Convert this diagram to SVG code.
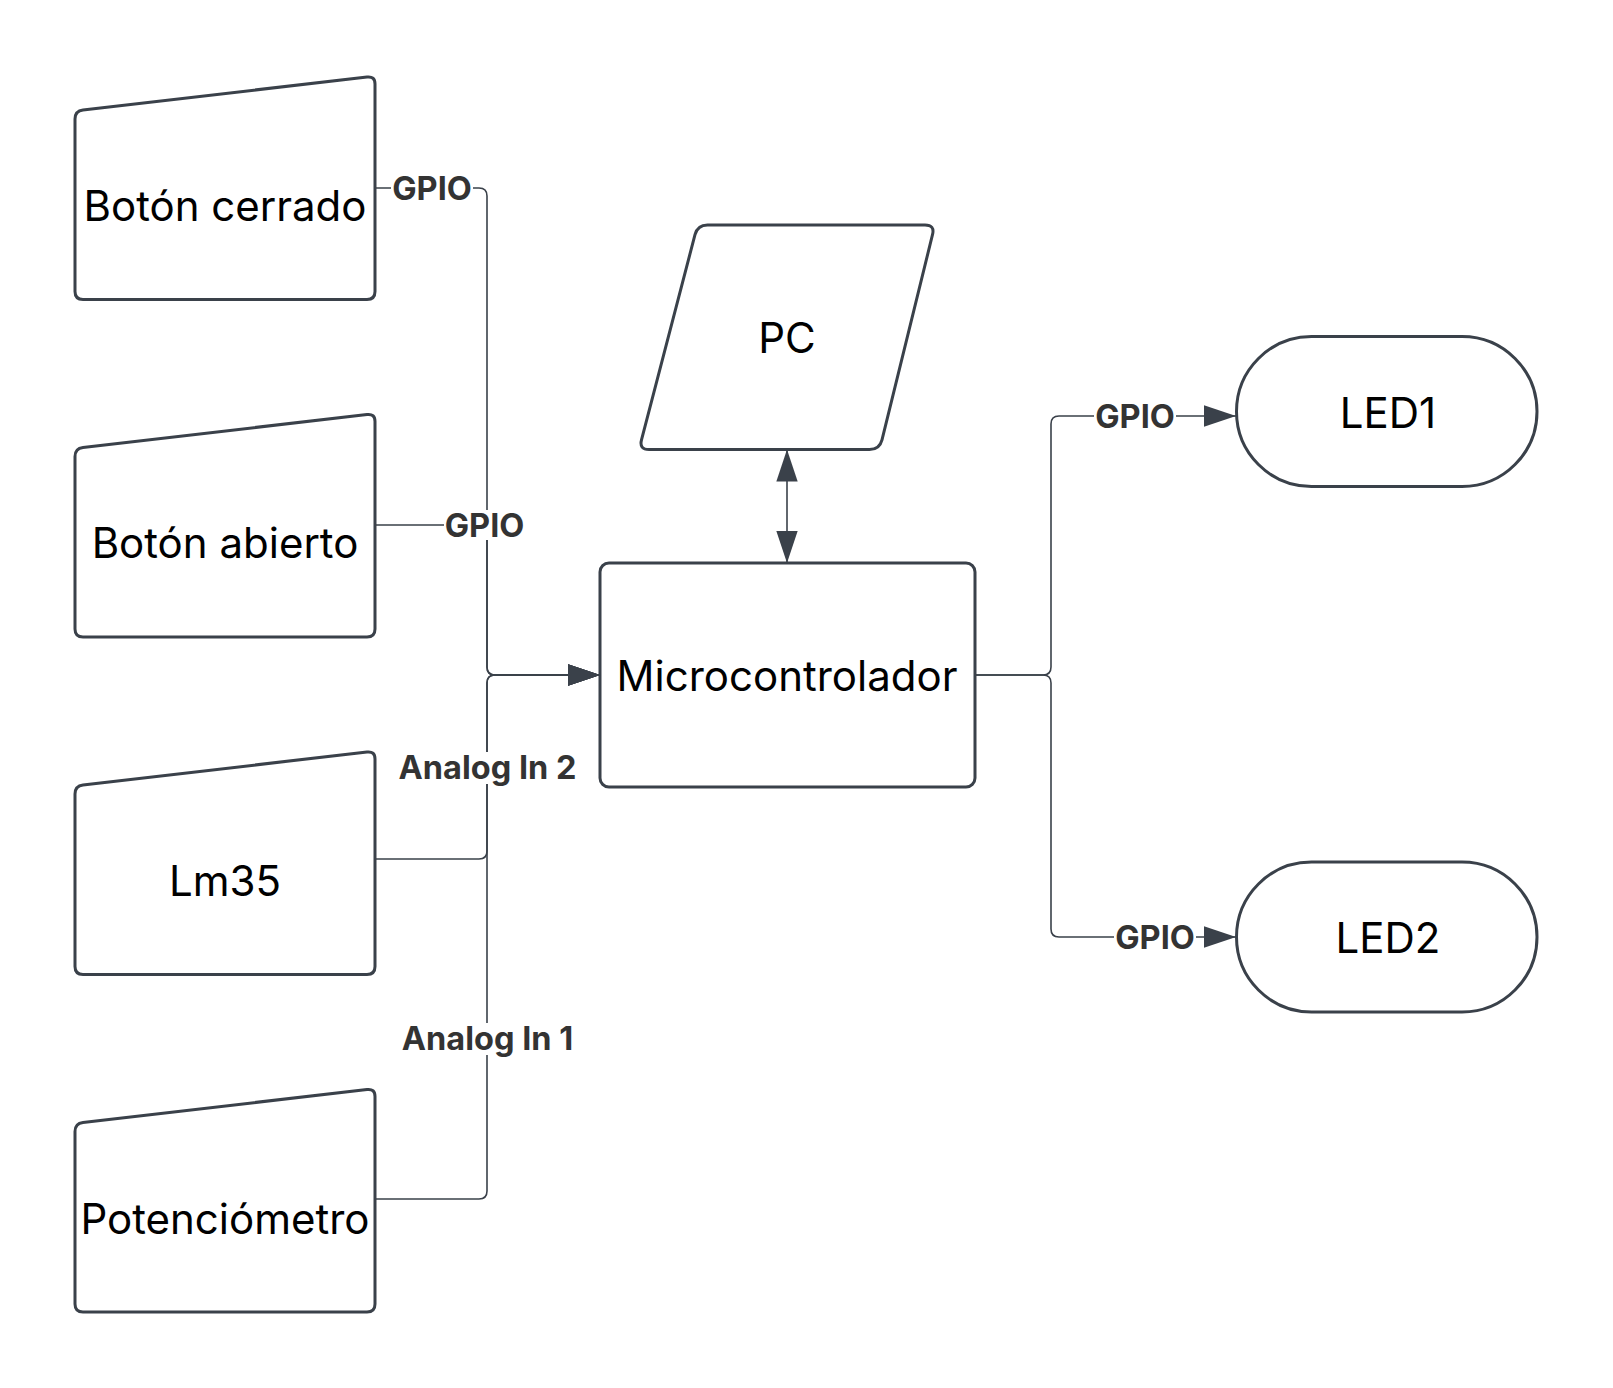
<svg xmlns="http://www.w3.org/2000/svg" width="1613" height="1388" viewBox="0 0 1613 1388">
<style>
.node{fill:#ffffff;stroke:#3a414a;stroke-width:3;stroke-linejoin:round}
.ntext{font-family:Inter,"Liberation Sans",sans-serif;font-size:42px;fill:#000;text-anchor:middle}
.conn{fill:none;stroke:#3a414a;stroke-width:1.6}
.lbl{font-family:Inter,"Liberation Sans",sans-serif;font-size:32.5px;font-weight:700;fill:#333;text-anchor:middle}
.lblbg{fill:#ffffff}
</style>
<defs>
<marker id="arr" markerUnits="userSpaceOnUse" markerWidth="32" markerHeight="22" viewBox="0 0 30 20" refX="30" refY="10" orient="auto-start-reverse">
<path d="M0,0 L30,10 L0,20 Z" fill="#3a414a"/>
</marker>
</defs>
<rect width="1613" height="1388" fill="#ffffff"/>

<g id="connectors">
<path class="conn" d="M375,188 L479,188 Q487,188 487,196 L487,667 Q487,675 495,675 L600,675" marker-end="url(#arr)"/>
<path class="conn" d="M375,525 L479,525 Q487,525 487,533 L487,667 Q487,675 495,675 L600,675" marker-end="url(#arr)"/>
<path class="conn" d="M375,859 L479,859 Q487,859 487,851 L487,683 Q487,675 495,675 L600,675" marker-end="url(#arr)"/>
<path class="conn" d="M375,1199 L479,1199 Q487,1199 487,1191 L487,683 Q487,675 495,675 L600,675" marker-end="url(#arr)"/>
<path class="conn" d="M787,449.5 L787,563" marker-start="url(#arr)" marker-end="url(#arr)"/>
<path class="conn" d="M975,675 L1043,675 Q1051,675 1051,667 L1051,424 Q1051,416 1059,416 L1236,416" marker-end="url(#arr)"/>
<path class="conn" d="M975,675 L1043,675 Q1051,675 1051,683 L1051,929 Q1051,937 1059,937 L1236,937" marker-end="url(#arr)"/>
<g id="labels">
<rect class="lblbg" x="391" y="173" width="82" height="30"/>
<text class="lbl" x="432" y="200">GPIO</text>
<rect class="lblbg" x="444" y="510" width="82" height="30"/>
<text class="lbl" x="484.5" y="537">GPIO</text>
<rect class="lblbg" x="395" y="752" width="186" height="32"/>
<text class="lbl" x="487.5" y="779">Analog In 2</text>
<rect class="lblbg" x="397" y="1023" width="182" height="32"/>
<text class="lbl" x="487.5" y="1050">Analog In 1</text>
<rect class="lblbg" x="1094" y="401" width="82" height="30"/>
<text class="lbl" x="1135" y="428">GPIO</text>
<rect class="lblbg" x="1114" y="922" width="82" height="30"/>
<text class="lbl" x="1155" y="949">GPIO</text>
</g>
</g>

<g id="boton-cerrado">
<path class="node" d="M83,110 L367,77 Q375,76 375,84 L375,291.5 Q375,299.5 367,299.5 L83,299.5 Q75,299.5 75,291.5 L75,119 Q75,111 83,110 Z"/>
<text class="ntext" x="225" y="221">Botón cerrado</text>
</g>
<g id="boton-abierto">
<path class="node" d="M83,447.5 L367,414.5 Q375,413.5 375,421.5 L375,629 Q375,637 367,637 L83,637 Q75,637 75,629 L75,456.5 Q75,448.5 83,447.5 Z"/>
<text class="ntext" x="225" y="558">Botón abierto</text>
</g>
<g id="lm35">
<path class="node" d="M83,785 L367,752 Q375,751 375,759 L375,966.5 Q375,974.5 367,974.5 L83,974.5 Q75,974.5 75,966.5 L75,794 Q75,786 83,785 Z"/>
<text class="ntext" x="225" y="896">Lm35</text>
</g>
<g id="potenciometro">
<path class="node" d="M83,1122.5 L367,1089.5 Q375,1088.5 375,1096.5 L375,1304 Q375,1312 367,1312 L83,1312 Q75,1312 75,1304 L75,1131.5 Q75,1123.5 83,1122.5 Z"/>
<text class="ntext" x="225" y="1234">Potenciómetro</text>
</g>
<g id="pc">
<path class="node" d="M707.5,225 L925,225 Q935,225 932.5,234.7 L882,439.8 Q879.5,449.5 869.5,449.5 L649,449.5 Q639,449.5 641.5,439.8 L695,234.7 Q697.5,225 707.5,225 Z"/>
<text class="ntext" x="787" y="353">PC</text>
</g>
<g id="microcontrolador">
<rect class="node" x="600" y="563" width="375" height="224" rx="9"/>
<text class="ntext" x="787" y="691">Microcontrolador</text>
</g>
<g id="led1">
<rect class="node" x="1236.5" y="336.5" width="300.5" height="150" rx="75"/>
<text class="ntext" x="1388" y="428">LED1</text>
</g>
<g id="led2">
<rect class="node" x="1236.5" y="862" width="300.5" height="150" rx="75"/>
<text class="ntext" x="1388" y="953">LED2</text>
</g>
</svg>
